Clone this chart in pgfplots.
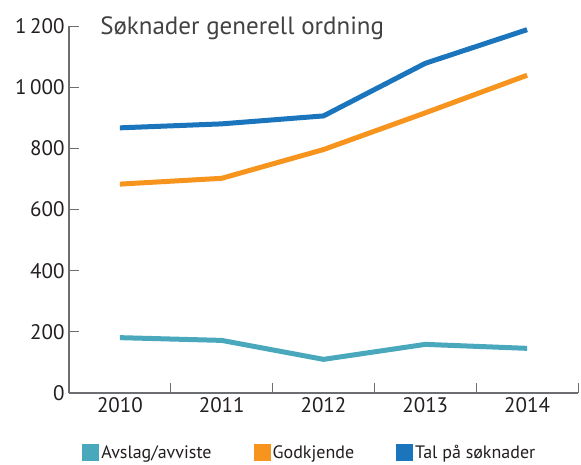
\documentclass[border=0pt]{standalone}
\usepackage{fontspec}
\setmainfont{PT Sans}
\usepackage{pgfplots}
\pgfplotsset{compat=1.18}

\definecolor{tal}{HTML}{1B75BC}
\definecolor{godk}{HTML}{F7941E}
\definecolor{avsl}{HTML}{4AA8BD}
\definecolor{axisgray}{HTML}{6D6E71}
\definecolor{txt}{HTML}{231F20}

\begin{document}
\begin{tikzpicture}
\useasboundingbox (-69pt,-71pt) rectangle (512pt,393pt);
\begin{axis}[
    scale only axis,
    width=509pt, height=367pt,
    xmin=-0.5, xmax=4.5,
    ymin=0, ymax=1200,
    axis x line=bottom, axis y line=left,
    axis line style={-, axisgray, line width=1.2pt},
    xtick={-0.5,0.5,...,4.5},
    x tick label as interval,
    xticklabels={2010,2011,2012,2013,2014},
    ytick={0,200,...,1200},
    tick align=inside,
    major tick length=10pt,
    tick style={axisgray, line width=1pt},
    /pgf/number format/assume math mode=true,
    /pgf/number format/1000 sep={\,},
    tick label style={font=\fontsize{21}{23}\selectfont, text=txt},
    yticklabel style={xshift=-1pt},
    xticklabel style={yshift=-1pt},
    clip=false,
    legend columns=3,
    legend style={draw=none, at={(axis description cs:0.02,-0.163)}, anchor=west,
        font=\fontsize{18}{20}\selectfont, text=txt,
        /tikz/every even column/.append style={column sep=40pt}},
    legend image code/.code={\fill (0pt,-6pt) rectangle (12pt,6pt);},
]
\addplot[avsl, line width=5pt] coordinates {
    (0,181) (1,172) (2,110) (3,159) (4,146)
}; \addlegendentry{Avslag/avviste}
\addplot[godk, line width=5pt] coordinates {
    (0,683) (1,702) (2,796) (3,916) (4,1039)
}; \addlegendentry{Godkjende}
\addplot[tal, line width=5pt] coordinates {
    (0,867) (1,880) (2,906) (3,1078) (4,1188)
}; \addlegendentry{Tal på søknader}
\node[anchor=west, text=txt!85!white, font=\fontsize{25}{28}\selectfont, inner sep=0pt]
    at (rel axis cs:0.061,0.995) {Søknader generell ordning};
\end{axis}
\end{tikzpicture}
\end{document}
